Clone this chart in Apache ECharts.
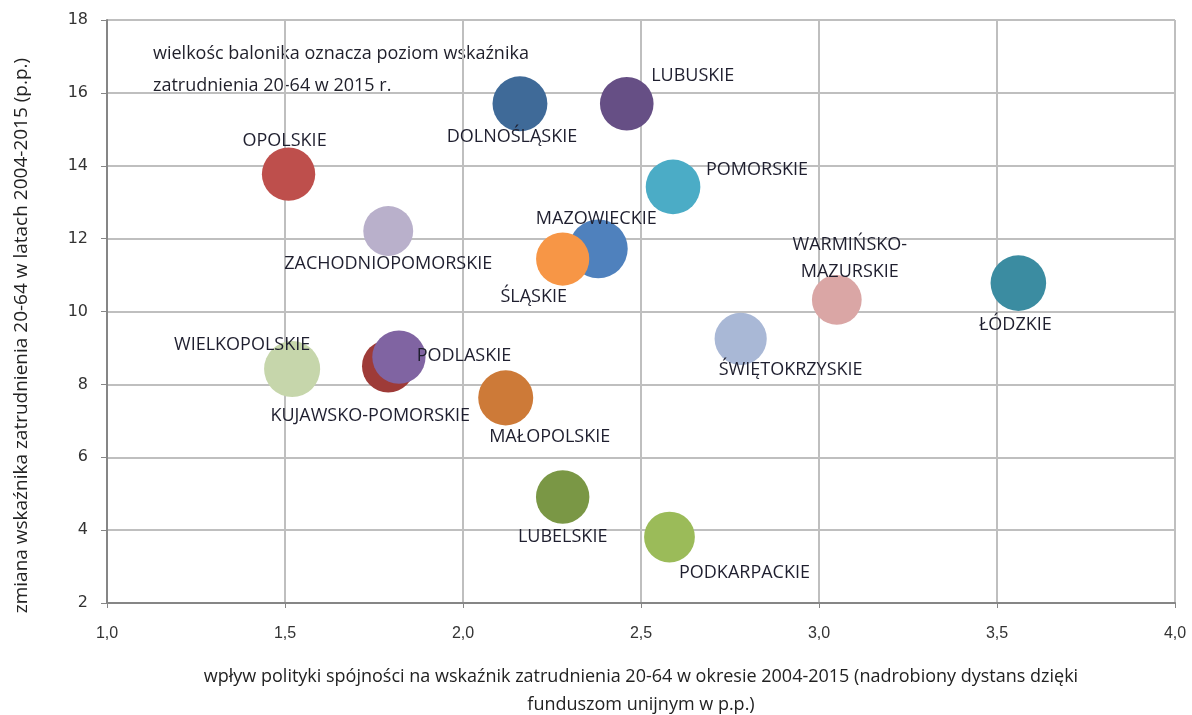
<!DOCTYPE html>
<html>
<head>
<meta charset="utf-8">
<script src="https://cdn.jsdelivr.net/npm/echarts@6/dist/echarts.min.js"></script>
<style>
  html, body { margin: 0; padding: 0; background: #fff; }
  #chart { width: 1192px; height: 715px; }
</style>
</head>
<body>
<div id="chart"></div>
<script>
// regions (voivodeships)
const regions = [
  "DOLNOŚLĄSKIE", "LUBUSKIE", "OPOLSKIE", "POMORSKIE", "ZACHODNIOPOMORSKIE",
  "MAZOWIECKIE", "ŚLĄSKIE", "WARMIŃSKO-\nMAZURSKIE", "ŁÓDZKIE", "ŚWIĘTOKRZYSKIE",
  "WIELKOPOLSKIE", "KUJAWSKO-POMORSKIE", "PODLASKIE", "MAŁOPOLSKIE",
  "LUBELSKIE", "PODKARPACKIE"
];
// cohesion policy effect (p.p.)
const policyEffect = [2.16, 2.46, 1.51, 2.59, 1.79, 2.38, 2.28, 3.05, 3.56, 2.78, 1.52, 1.79, 1.82, 2.12, 2.28, 2.58];
// change of employment rate 2004-2015 (p.p.)
const rateChange = [15.7, 15.7, 13.77, 13.42, 12.21, 11.72, 11.44, 10.32, 10.78, 9.25, 8.42, 8.5, 8.75, 7.63, 4.91, 3.81];
// employment rate 20-64 in 2015 (bubble size)
const rate2015 = [68.6, 67.0, 66.7, 68.3, 62.4, 73.6, 66.5, 62.2, 69.5, 65.2, 70.1, 65.6, 66.6, 68.8, 66.8, 63.5];

const colors = [
  "#3F6A98", "#664F85", "#BE4F4C", "#4BACC6", "#B9B0CB",
  "#4F81BD", "#F79646", "#DAA6A5", "#3B8CA1", "#A9B8D6",
  "#C6D6AB", "#9E3B38", "#8064A2", "#CD7A38", "#7A9745", "#9BBB59"
];
// label offsets from bubble centre
const labelOffsets = [
  [-8, 33], [66, -28], [-4, -33], [84, -17], [0, 33],
  [-2, -30], [-29, 38], [13, -41], [-3, 42], [50, 31],
  [-50, -24], [-18, 50], [65, -1], [44, 39], [0, 40], [75, 36]
];

const data = regions.map((name, i) => ({
  name: name,
  value: [policyEffect[i], rateChange[i], rate2015[i]],
  itemStyle: { color: colors[i] },
  label: { offset: labelOffsets[i] }
}));

const chart = echarts.init(document.getElementById("chart"));
chart.setOption({
  animation: false,
  grid: { left: 107, right: 17, top: 20, bottom: 112, outerBoundsMode: "none" },
  graphic: [{
    type: "text",
    left: 153,
    top: 38,
    style: {
      text: "wielkośc balonika oznacza poziom wskaźnika\nzatrudnienia 20-64 w 2015 r.",
      font: "18px 'Open Sans', sans-serif",
      fill: "#1F1F2A",
      lineHeight: 32
    }
  }],
  xAxis: {
    type: "value",
    min: 1,
    max: 4,
    interval: 0.5,
    name: "wpływ polityki spójności na wskaźnik zatrudnienia 20-64 w okresie 2004-2015 (nadrobiony dystans dzięki\nfunduszom unijnym w p.p.)",
    nameLocation: "middle",
    nameGap: 60,
    nameTextStyle: { fontFamily: "'Open Sans', sans-serif", fontSize: 18, color: "#222", lineHeight: 28 },
    axisLine: { show: true, lineStyle: { color: "#868686", width: 2 } },
    axisTick: { show: true, length: 5, lineStyle: { color: "#868686" } },
    axisLabel: {
      margin: 23,
      fontFamily: "'Liberation Sans Narrow', 'Liberation Sans', sans-serif",
      fontSize: 16,
      color: "#333",
      formatter: v => v.toFixed(1).replace(".", ",")
    },
    splitLine: { show: true, lineStyle: { color: "#BFBFBF", width: 2 } }
  },
  yAxis: {
    type: "value",
    min: 2,
    max: 18,
    interval: 2,
    name: "zmiana wskaźnika zatrudnienia 20-64 w latach 2004-2015 (p.p.)",
    nameLocation: "middle",
    nameGap: 76,
    nameTextStyle: { fontFamily: "'Open Sans', sans-serif", fontSize: 19, color: "#222", padding: [0, 48, 0, 0] },
    axisLine: { show: true, lineStyle: { color: "#868686", width: 2 } },
    axisTick: { show: true, length: 6, lineStyle: { color: "#868686" } },
    axisLabel: {
      margin: 19,
      fontFamily: "'DejaVu Sans', sans-serif",
      fontSize: 16,
      color: "#333"
    },
    splitLine: { show: true, lineStyle: { color: "#BFBFBF", width: 2 } }
  },
  series: [{
    type: "scatter",
    data: data,
    symbolSize: v => v[2] * 0.8,
    itemStyle: { opacity: 1 },
    label: {
      show: true,
      position: "inside",
      formatter: p => p.name,
      fontFamily: "'Open Sans', sans-serif",
      fontSize: 18,
      color: "#1F1F2F",
      textBorderWidth: 0,
      lineHeight: 27
    },
    emphasis: { disabled: true }
  }]
});
</script>
</body>
</html>
